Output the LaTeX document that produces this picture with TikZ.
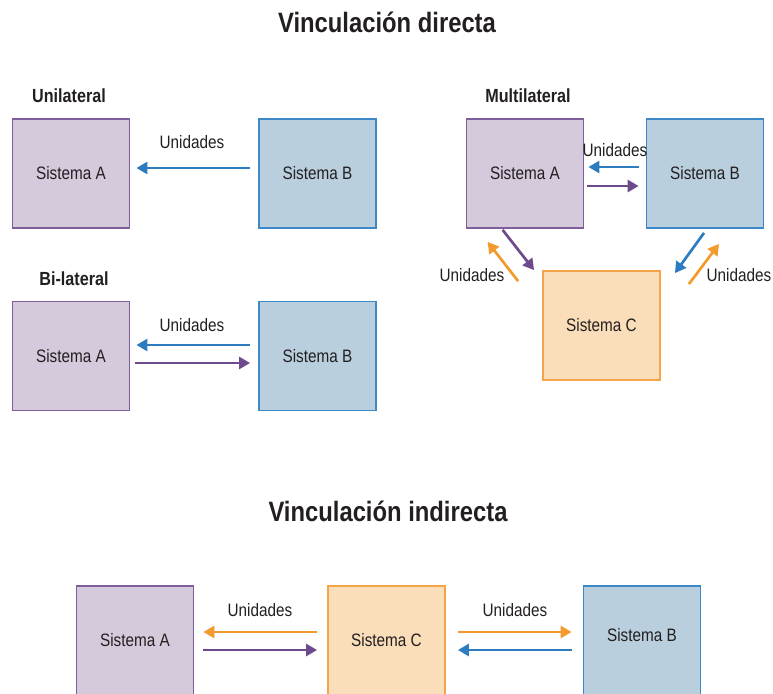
\documentclass[tikz,border=0pt]{standalone}
\usepackage{fontspec}
\setmainfont[FakeStretch=0.85]{Liberation Sans}
\usetikzlibrary{arrows.meta}

\definecolor{purpleFill}{HTML}{D5C9DC}
\definecolor{purpleLine}{HTML}{7F5F9B}
\definecolor{blueFill}{HTML}{B9CFDD}
\definecolor{blueLine}{HTML}{3C88C8}
\definecolor{orangeFill}{HTML}{FADDB9}
\definecolor{orangeLine}{HTML}{F6A44A}
\definecolor{arrowBlue}{HTML}{2D7CC0}
\definecolor{arrowPurple}{HTML}{6C4A8C}
\definecolor{arrowOrange}{HTML}{F39A2C}
\definecolor{txt}{HTML}{231F20}

\tikzset{
	sysbox/.style={draw, line width=1.8pt, minimum width=117pt, minimum height=109pt, inner sep=0pt, text=txt, font=\fontsize{18}{20}\selectfont},
	sysPurple/.style={sysbox, fill=purpleFill, draw=purpleLine},
	sysBlue/.style={sysbox, fill=blueFill, draw=blueLine},
	sysOrange/.style={sysbox, fill=orangeFill, draw=orangeLine},
	flow/.style={line width=2.7pt, -{Triangle[length=11pt,width=12pt]}},
	flowBlue/.style={flow, draw=arrowBlue},
	flowPurple/.style={flow, draw=arrowPurple},
	flowOrange/.style={flow, draw=arrowOrange},
	lbl/.style={text=txt, inner sep=0pt, font=\fontsize{18}{20}\selectfont},
	subttl/.style={text=txt, inner sep=0pt, font=\bfseries\fontsize{19}{21}\selectfont},
	ttl/.style={text=txt, inner sep=0pt, font=\bfseries\fontsize{28}{30}\selectfont}
}

\begin{document}
\begin{tikzpicture}[x=1pt, y=-1pt]
			\useasboundingbox (0, 0) rectangle (773, 693);

			% titulos
			\draw (387, 22) 	node[ttl] 		(tdir) 		{Vinculación directa};
			\draw (388, 511) 	node[ttl] 		(tind) 		{Vinculación indirecta};
			\draw (69, 96) 		node[subttl] 	(tuni) 		{Unilateral};
			\draw (74, 279) 	node[subttl] 	(tbi) 		{Bi-lateral};
			\draw (528, 96) 	node[subttl] 	(tmul) 		{Multilateral};

			% unilateral
			\draw (71, 173.5) 	node[sysPurple] 	(uA) 		{Sistema A};
			\draw (317.5, 173.5) 	node[sysBlue] 		(uB) 		{Sistema B};
			\draw (192, 142) 	node[lbl] 		(uL) 		{Unidades};
			\draw[flowBlue, shorten <=8pt, shorten >=6pt] ([yshift=5.5pt]uB.west) -- ([yshift=5.5pt]uA.east);

			% bi-lateral
			\draw (71, 356) 	node[sysPurple] 	(bA) 		{Sistema A};
			\draw (317.5, 356) 	node[sysBlue] 		(bB) 		{Sistema B};
			\draw (192, 325) 	node[lbl] 		(bL) 		{Unidades};
			\draw[flowBlue, shorten <=8pt, shorten >=6pt] ([yshift=11pt]bB.west) -- ([yshift=11pt]bA.east);
			\draw[flowPurple, shorten <=5pt, shorten >=8pt] ([yshift=-7pt]bA.east) -- ([yshift=-7pt]bB.west);

			% multilateral
			\draw (525, 173.5) 	node[sysPurple] 	(mA) 		{Sistema A};
			\draw (705, 173.5) 	node[sysBlue] 		(mB) 		{Sistema B};
			\draw (601.5, 325.5) 	node[sysOrange] 	(mC) 		{Sistema C};
			\draw (615, 150) 	node[lbl] 		(mL1) 		{Unidades};
			\draw (472, 275) 	node[lbl] 		(mL2) 		{Unidades};
			\draw (739, 275) 	node[lbl] 		(mL3) 		{Unidades};
			\draw[flowBlue, shorten <=7pt, shorten >=4pt] ([yshift=6.5pt]mB.west) -- ([yshift=6.5pt]mA.east);
			\draw[flowPurple, shorten <=3pt, shorten >=7pt] ([yshift=-12.5pt]mA.east) -- ([yshift=-12.5pt]mB.west);
			\draw[flowPurple] ([xshift=37pt, yshift=-1pt]mA.south west) -- ([xshift=-8pt]mC.north west);
			\draw[flowOrange] ([xshift=-24pt, yshift=-11pt]mC.north west) -- ([xshift=22pt, yshift=-13pt]mA.south west);
			\draw[flowBlue] ([xshift=-1pt, yshift=-4pt]mB.south) -- ([xshift=14pt, yshift=-3pt]mC.north east);
			\draw[flowOrange] ([xshift=28pt, yshift=-14pt]mC.north east) -- ([xshift=14pt, yshift=-15pt]mB.south);

			% indirecta
			\draw (135, 640.5) 	node[sysPurple] 	(iA) 		{Sistema A};
			\draw (386.5, 640.5) 	node[sysOrange] 	(iC) 		{Sistema C};
			\draw (642, 640.5) 	node[sysBlue, text depth=12pt] 	(iB) 	{Sistema B};
			\draw (260, 610) 	node[lbl] 		(iL1) 		{Unidades};
			\draw (515, 610) 	node[lbl] 		(iL2) 		{Unidades};
			\draw[flowOrange, shorten <=10pt, shorten >=9pt] ([yshift=8.5pt]iC.west) -- ([yshift=8.5pt]iA.east);
			\draw[flowPurple, shorten <=9pt, shorten >=10pt] ([yshift=-9.5pt]iA.east) -- ([yshift=-9.5pt]iC.west);
			\draw[flowOrange, shorten <=12pt, shorten >=11pt] ([yshift=8.5pt]iC.east) -- ([yshift=8.5pt]iB.west);
			\draw[flowBlue, shorten <=11pt, shorten >=12pt] ([yshift=-9.5pt]iB.west) -- ([yshift=-9.5pt]iC.east);
\end{tikzpicture}
\end{document}
